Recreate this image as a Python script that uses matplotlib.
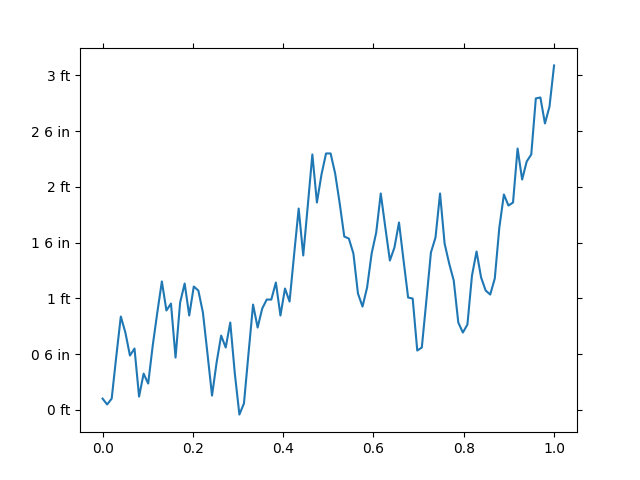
import matplotlib
matplotlib.use("Agg")
import matplotlib.pyplot as plt
import numpy as np
from matplotlib.ticker import MultipleLocator, FuncFormatter

# posicion (0..1) y distancia en pies
x = np.linspace(0, 1, 100)
distancia_ft = [0.101, 0.048, 0.101, 0.478, 0.837, 0.693, 0.487, 0.550, 0.119, 0.325,
                0.236, 0.577, 0.873, 1.151, 0.891, 0.953, 0.469, 0.962, 1.133, 0.846,
                1.106, 1.070, 0.873, 0.505, 0.128, 0.424, 0.666, 0.559, 0.783, 0.325,
                -0.042, 0.057, 0.505, 0.944, 0.738, 0.908, 0.989, 0.989, 1.142, 0.846,
                1.088, 0.971, 1.393, 1.805, 1.384, 1.832, 2.290, 1.859, 2.110, 2.299,
                2.299, 2.119, 1.850, 1.554, 1.536, 1.402, 1.043, 0.926, 1.097, 1.402,
                1.590, 1.940, 1.635, 1.339, 1.456, 1.680, 1.339, 1.007, 0.998, 0.532,
                0.559, 0.980, 1.411, 1.545, 1.940, 1.491, 1.312, 1.160, 0.783, 0.693,
                0.765, 1.204, 1.420, 1.187, 1.070, 1.034, 1.178, 1.635, 1.931, 1.832,
                1.859, 2.343, 2.065, 2.227, 2.290, 2.792, 2.801, 2.568, 2.720, 3.088]


def pies_pulgadas(v, pos):
        pies = int(np.floor(v + 1e-9))
        pulgadas = int(round((v - pies) * 12))
        if pulgadas == 0:
                return "%d ft" % pies
        return "%d %d in" % (pies, pulgadas)


fig, ax = plt.subplots(figsize=(6.4, 4.8), dpi=100)
fig.subplots_adjust(left=0.125, right=0.901, bottom=0.1, top=0.9)
ax.plot(x, distancia_ft)
ax.yaxis.set_major_locator(MultipleLocator(0.5))
ax.yaxis.set_major_formatter(FuncFormatter(pies_pulgadas))
ax.tick_params(top=True, right=True)

fig.savefig("out.png")
